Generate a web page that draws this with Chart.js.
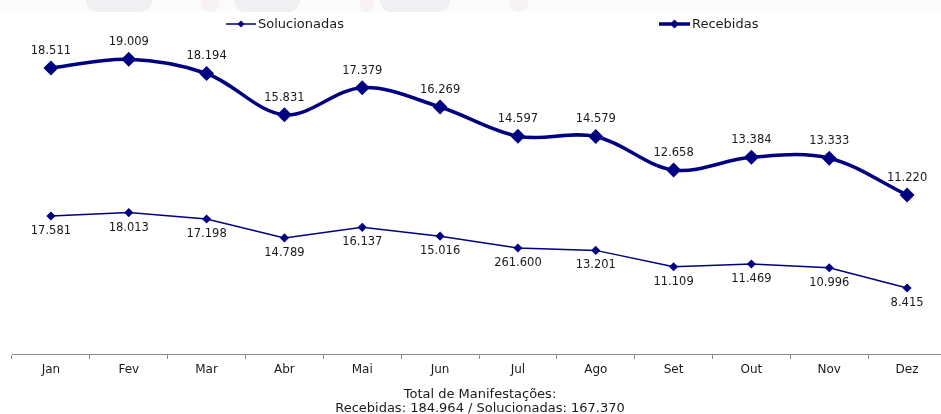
<!DOCTYPE html>
<html>
<head>
<meta charset="utf-8">
<script src="https://cdn.jsdelivr.net/npm/chart.js@4.4.1/dist/chart.umd.min.js"></script>
<style>
  html, body { margin:0; padding:0; background:#fff; }
  #wrap { position:relative; width:941px; height:414px; overflow:hidden; font-family:"DejaVu Sans", Verdana, sans-serif; color:#1a1a1a; }
  #banner { position:absolute; left:0; top:0; width:941px; height:12px; background:#fcfcfd; }
  .blob { position:absolute; top:0; height:12px; background:#f0f0f3; border-radius:0 0 14px 14px; }
  .blob2 { position:absolute; top:0; height:12px; background:#f9f2f2; border-radius:0 0 10px 10px; }
  #cwrap { position:absolute; left:0; top:0; width:941px; height:414px; overflow:hidden; }
  canvas { position:absolute; left:0; top:0; }
  .leg { position:absolute; top:16px; font-size:13px; line-height:16px; display:flex; align-items:center; white-space:nowrap; }
  .leg svg { margin-right:2px; }
  #foot { position:absolute; left:0; width:960px; top:387px; text-align:center; font-size:13px; line-height:14px; }
</style>
</head>
<body>
<div id="wrap">
  <div id="banner">
    <div class="blob" style="left:86px;width:66px;"></div>
    <div class="blob" style="left:234px;width:66px;"></div>
    <div class="blob" style="left:380px;width:70px;"></div>
    <div class="blob2" style="left:200px;width:20px;"></div>
    <div class="blob2" style="left:360px;width:14px;"></div>
    <div class="blob2" style="left:510px;width:18px;"></div>
  </div>
  <div id="cwrap"><canvas id="c" width="950" height="414"></canvas></div>
  <div class="leg" style="left:226px;">
    <svg width="30" height="10"><line x1="0" y1="5" x2="30" y2="5" stroke="#000080" stroke-width="1.5"/><polygon points="15,1.5 18.5,5 15,8.5 11.5,5" fill="#000080"/></svg>Solucionadas
  </div>
  <div class="leg" style="left:659px;">
    <svg width="31" height="12"><line x1="0" y1="6" x2="31" y2="6" stroke="#000080" stroke-width="3.5"/><polygon points="15.5,1.5 20,6 15.5,10.5 11,6" fill="#000080"/></svg>Recebidas
  </div>
  <div id="foot">Total de Manifestações:<br>Recebidas: 184.964 / Solucionadas: 167.370</div>
</div>
<script>
const months = ["Jan","Fev","Mar","Abr","Mai","Jun","Jul","Ago","Set","Out","Nov","Dez"];
const recebidas = [18.511, 19.009, 18.194, 15.831, 17.379, 16.269, 14.597, 14.579, 12.658, 13.384, 13.333, 11.220];
const solucionadas = [17.581, 18.013, 17.198, 14.789, 16.137, 15.016, 13.5, 13.201, 11.109, 11.469, 10.996, 8.415];
const recebidasLabels = ["18.511","19.009","18.194","15.831","17.379","16.269","14.597","14.579","12.658","13.384","13.333","11.220"];
const solucionadasLabels = ["17.581","18.013","17.198","14.789","16.137","15.016","261.600","13.201","11.109","11.469","10.996","8.415"];

const NAVY = "#000080";

const dataLabels = {
  id: "dataLabels",
  afterDatasetsDraw(chart) {
    const ctx = chart.ctx;
    ctx.save();
    ctx.font = "11.5px 'DejaVu Sans', Verdana, sans-serif";
    ctx.fillStyle = "#1a1a1a";
    ctx.textAlign = "center";
    ctx.textBaseline = "middle";
    chart.data.datasets.forEach((ds, i) => {
      const meta = chart.getDatasetMeta(i);
      meta.data.forEach((pt, j) => {
        const txt = ds.labelsText[j];
        const dy = ds.labelPos === "above" ? -17 : 15;
        ctx.fillText(txt, pt.x, pt.y + dy);
      });
    });
    ctx.restore();
  }
};

new Chart(document.getElementById("c"), {
  type: "line",
  data: {
    labels: months,
    datasets: [
      {
        label: "Solucionadas",
        data: solucionadas,
        labelsText: solucionadasLabels,
        labelPos: "below",
        yAxisID: "yS",
        borderColor: NAVY,
        backgroundColor: NAVY,
        borderWidth: 1.5,
        pointStyle: "rectRot",
        pointRadius: 3.5,
        pointHoverRadius: 3.5,
        tension: 0,
        fill: false
      },
      {
        label: "Recebidas",
        data: recebidas,
        labelsText: recebidasLabels,
        labelPos: "above",
        yAxisID: "yR",
        borderColor: NAVY,
        backgroundColor: NAVY,
        borderWidth: 3.5,
        pointStyle: "rectRot",
        pointRadius: 5,
        pointHoverRadius: 5,
        tension: 0.35,
        fill: false
      }
    ]
  },
  options: {
    responsive: false,
    animation: false,
    events: [],
    layout: { autoPadding: false, padding: { top: 42, left: 12, right: 4, bottom: 34 } },
    plugins: { legend: { display: false }, title: { display: false }, tooltip: { enabled: false } },
    scales: {
      x: {
        offset: true,
        grid: { offset: true, drawOnChartArea: false, drawTicks: true, tickLength: 5, color: "#8a8a8a", lineWidth: 1 },
        border: { display: true, color: "#8a8a8a", width: 1 },
        ticks: { color: "#1a1a1a", padding: 4, font: { family: "'DejaVu Sans', Verdana, sans-serif", size: 12 } },
        afterFit(s) { s.height = 26; }
      },
      yS: { display: false, min: 0, max: 39.75 },
      yR: { display: false, min: 2.1, max: 20 }
    }
  },
  plugins: [dataLabels]
});
</script>
</body>
</html>
